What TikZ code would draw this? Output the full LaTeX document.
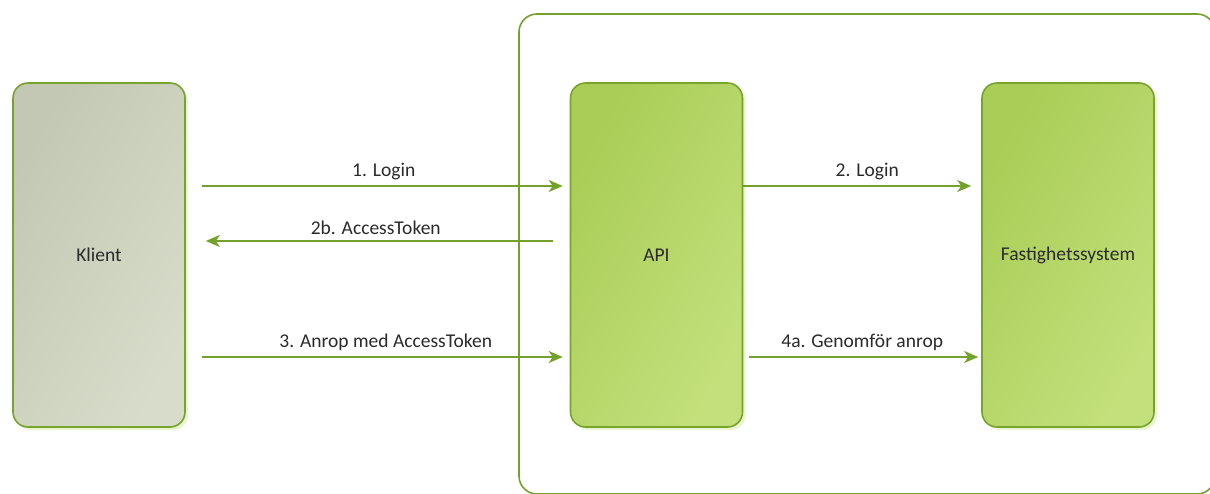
\documentclass[tikz,border=0pt]{standalone}
\usepackage{fontspec}
\setmainfont{Carlito}
\usetikzlibrary{arrows.meta,shadows,calc}
\definecolor{lineg}{HTML}{74A12B}
\definecolor{edgeg}{HTML}{78A42C}
\definecolor{apiA}{HTML}{A9CD56}
\definecolor{apiB}{HTML}{C3E07C}
\definecolor{cliA}{HTML}{C3C8B4}
\definecolor{cliB}{HTML}{D8DDCB}
\definecolor{txt}{HTML}{2A2A2A}
\tikzset{
  box/.style={draw=edgeg, line width=1.6pt, rounded corners=15pt,
    minimum width=172pt, minimum height=344pt, inner sep=0pt,
    font=\fontsize{19.5}{22}\selectfont, text=txt,
    drop shadow={shadow xshift=3pt, shadow yshift=-3pt, fill=apiB!60, opacity=0.6}},
  apibox/.style={box, shading=axis, left color=apiA, right color=apiB, shading angle=60},
  clibox/.style={box, shading=axis, left color=cliA, right color=cliB, shading angle=60},
  arr/.style={draw=lineg, line width=1.8pt, -{Stealth[length=14pt, width=12pt, inset=4pt]}},
  lbl/.style={font=\fontsize{19.5}{22}\selectfont, text=txt, inner sep=0pt},
  frame/.style={draw=lineg, line width=1.6pt, rounded corners=18pt}
}
\begin{document}
\begin{tikzpicture}[x=1pt, y=-1pt]
\useasboundingbox (0,0) rectangle (1210,493);
\clip (0,0) rectangle (1210,493);
\draw[frame] (519,14) rectangle (1215,494);
\node[clibox] (klient) at (99,255) {Klient};
\node[apibox] (api) at (656.5,255) {API};
\node[apibox] (fast) at (1068,255) {Fastighetssystem};
% 1. Login
\draw[arr, shorten <=16pt, shorten >=7pt] ([yshift=69pt]klient.east) -- ([yshift=69pt]api.west)
  node[lbl, midway, above=5pt, xshift=6pt] {1. Login};
% 2b. AccessToken
\draw[arr, shorten <=17pt, shorten >=20pt] ([yshift=14pt]api.west) -- ([yshift=14pt]klient.east)
  node[lbl, midway, above=5pt, xshift=-2pt] {2b. AccessToken};
% 3. Anrop
\draw[arr, shorten <=16pt, shorten >=7pt] ([yshift=-102pt]klient.east) -- ([yshift=-102pt]api.west)
  node[lbl, midway, above=5pt, xshift=8pt] {3. Anrop med AccessToken};
% 2. Login
\draw[arr, shorten <=0pt, shorten >=10pt] ([yshift=69pt]api.east) -- ([yshift=69pt]fast.west)
  node[lbl, midway, above=5pt, xshift=5pt] {2. Login};
% 4a
\draw[arr, shorten <=6pt, shorten >=3pt] ([yshift=-102pt]api.east) -- ([yshift=-102pt]fast.west)
  node[lbl, midway, above=5pt, xshift=0pt] {4a. Genomför anrop};
\end{tikzpicture}
\end{document}
